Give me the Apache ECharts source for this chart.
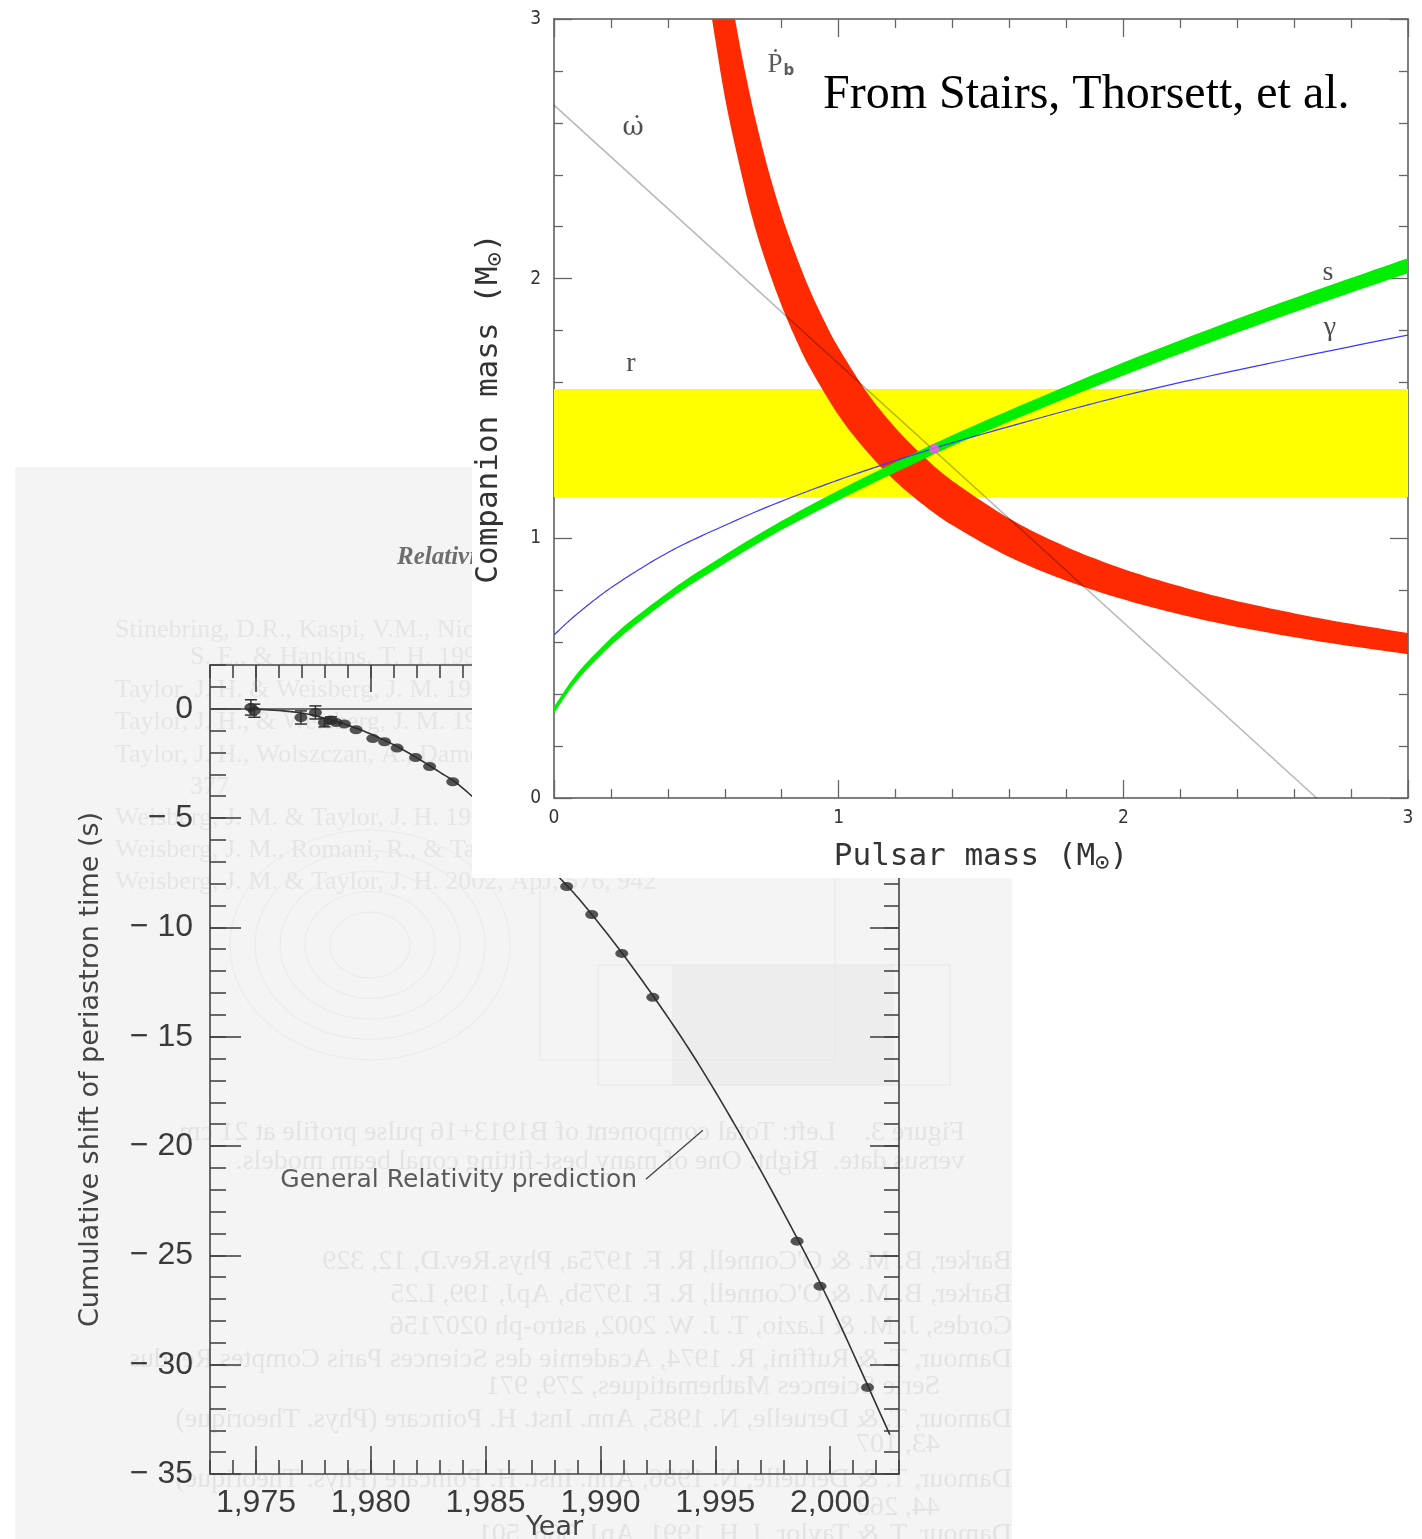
<!DOCTYPE html>
<html><head><meta charset="utf-8">
<script src="https://cdn.jsdelivr.net/npm/echarts@6/dist/echarts.min.js"></script>
<style>
html,body{margin:0;padding:0;background:#fff;width:1422px;height:1539px;overflow:hidden;position:relative}
#back{position:absolute;left:15px;top:467px;width:997px;height:1072px;background:#f4f4f4}
#front{position:absolute;left:472px;top:0;width:950px;height:878px;background:#fff}
</style></head><body>
<div id="back"></div><div id="front"></div>
<script>
// ===== Back chart: cumulative periastron shift =====
const years  = [1974.78,1974.93,1976.96,1977.59,1977.98,1978.27,1978.49,1978.85,1979.36,1980.09,1980.60,1981.15,1981.95,1982.56,1983.57,1988.53,1989.62,1990.93,1992.28,1998.56,1999.56,2001.63];
const shifts = [0.06,-0.09,-0.40,-0.17,-0.63,-0.52,-0.63,-0.70,-0.96,-1.36,-1.51,-1.80,-2.23,-2.64,-3.34,-8.13,-9.41,-11.19,-13.20,-24.35,-26.41,-31.04];
const shiftErr = [0.35,0.3,0.3,0.3,0.2,0.15,0,0,0,0,0,0,0,0,0,0,0,0,0,0,0,0];
const grYears = [1974.8,1977,1979,1981,1983,1984.3,1988,1990,1992,1994,1996,1998,2000,2002.6];
const grShift = [0,-0.2,-0.75,-1.65,-2.9,-3.9,-7.5,-9.9,-12.7,-15.8,-19.3,-23.1,-27.2,-33.2];
const grLabel = 'General Relativity prediction';
const grLabelAt = [1976.06,-21.57];
const grLeader = [[1991.98,-21.52],[1994.46,-19.28]];
const yearTicks = [1975,1980,1985,1990,1995,2000];
const shiftTicks = [0,-5,-10,-15,-20,-25,-30,-35];
const yearMinor = []; for (let y = 1973; y <= 2003; y++) yearMinor.push(y);
const shiftMinor = []; for (let v = 2; v >= -35; v--) shiftMinor.push(v);

// ===== Front chart: mass-mass diagram =====
const pbUpper = [[0.636,3.0],[0.66,2.858],[0.7,2.65],[0.75,2.43],[0.8,2.245],[0.85,2.09],[0.9,1.953],[0.95,1.836],[1.0,1.733],[1.1,1.561],[1.2,1.425],[1.3,1.314],[1.4,1.221],[1.6,1.076],[1.8,0.967],[2.0,0.882],[2.2,0.815],[2.4,0.758],[2.7,0.69],[3.0,0.635]];
const pbLower = [[0.555,3.0],[0.6,2.70],[0.65,2.443],[0.7,2.22],[0.75,2.045],[0.8,1.895],[0.85,1.766],[0.9,1.655],[1.0,1.473],[1.1,1.333],[1.2,1.219],[1.3,1.127],[1.4,1.05],[1.6,0.928],[1.8,0.837],[2.0,0.765],[2.2,0.707],[2.4,0.659],[2.7,0.601],[3.0,0.554]];
const sM1    = [0,0.05,0.1,0.175,0.25,0.375,0.5,0.75,1.0,1.25,1.5,2.0,2.5,3.0];
const sUpper = [0.351,0.434,0.504,0.589,0.665,0.771,0.867,1.036,1.185,1.320,1.446,1.677,1.886,2.079];
const sLower = [0.325,0.408,0.476,0.561,0.635,0.741,0.835,1.002,1.147,1.280,1.404,1.627,1.832,2.021];
const gammaM1 = [0,0.03,0.05,0.1,0.175,0.25,0.375,0.5,0.75,1.0,1.25,1.5,2.0,2.5,3.0];
const gammaM2 = [0.628,0.659,0.679,0.726,0.79,0.846,0.93,1.0,1.121,1.225,1.317,1.40,1.549,1.671,1.783];
const omdot = [[0,2.668],[2.679,0]];
const rBand = [1.159,1.575];
const massRange = [0,3];
const solution = [1.335,1.345];
const curveNames = ['{p|\u1E56}{b|b}','{w|\u03C9\u0307}','r','s','\u03B3'];
const curveNameM1 = [0.797,0.2775,0.2705,2.719,2.726];
const curveNameM2 = [2.823,2.58,1.671,2.022,1.810];
const massTicks = [0,1,2,3];

// Catmull-Rom resampling of pixel points (render-time smoothing only)
function crSample(px, seg) {
  const out = [];
  const n = px.length;
  for (let i = 0; i < n - 1; i++) {
    const p0 = px[Math.max(i - 1, 0)], p1 = px[i], p2 = px[i + 1], p3 = px[Math.min(i + 2, n - 1)];
    for (let k = 0; k < seg; k++) {
      const t = k / seg, t2 = t * t, t3 = t2 * t;
      const f = j => 0.5 * (2 * p1[j] + (-p0[j] + p2[j]) * t + (2 * p0[j] - 5 * p1[j] + 4 * p2[j] - p3[j]) * t2 + (-p0[j] + 3 * p1[j] - 3 * p2[j] + p3[j]) * t3);
      out.push([f(0), f(1)]);
    }
  }
  out.push(px[n - 1]);
  return out;
}
function curveSeries(pts, style, z) {
  return {type:'custom', coordinateSystem:'cartesian2d', data:[[pts[0][0], pts[0][1]]], encode:{x:0, y:1}, z:z, silent:true, clip:true,
    renderItem:(params, api) => ({type:'polyline', shape:{points:crSample(pts.map(p => api.coord(p)), 12)}, style:Object.assign({fill:null}, style)})};
}
function band(upper, lower, color, z) {
  return {type:'custom', coordinateSystem:'cartesian2d', data:[[upper[0][0], upper[0][1]]], encode:{x:0, y:1}, z:z, silent:true, clip:true,
    renderItem:(params, api) => {
      const up = crSample(upper.map(p => api.coord(p)), 10);
      const lo = crSample(lower.map(p => api.coord(p)), 10).reverse();
      return {type:'polygon', shape:{points:up.concat(lo)}, style:{fill:color}};
    }};
}

// ---------- back chart ----------
const AX = '#444';
const LF = '"Liberation Sans", Arial, sans-serif';
const DF = '"DejaVu Sans", sans-serif';
const back = echarts.init(document.getElementById('back'));
function bx(pos, vals, len, labels, line) {
  return {type:'value', min:1973, max:2003, position:pos, splitLine:{show:false},
    axisLine:{show:line, onZero:false, lineStyle:{color:AX, width:1.6}},
    axisTick:{show:true, inside:true, length:len, customValues:vals, lineStyle:{color:AX, width:1.6}},
    axisLabel:labels ? {show:true, customValues:vals, margin:13, fontSize:32, color:'#3a3a3a', fontFamily:LF} : {show:false}};
}
function by(pos, vals, len, labels, line) {
  return {type:'value', min:-35, max:2, position:pos, splitLine:{show:false},
    axisLine:{show:line, onZero:false, lineStyle:{color:AX, width:1.6}},
    axisTick:{show:true, inside:true, length:len, customValues:vals, lineStyle:{color:AX, width:1.6}},
    axisLabel:labels ? {show:true, customValues:vals, margin:17, fontSize:32, color:'#3a3a3a', fontFamily:LF,
      formatter:v => v === 0 ? '0' : '\u2212 ' + Math.abs(v)} : {show:false}};
}
const xa0 = bx('bottom', yearTicks, 28, true, true);
Object.assign(xa0, {name:'Year', nameLocation:'middle', nameGap:40, nameMoveOverlap:false,
  nameTextStyle:{fontSize:27, color:'#444', fontFamily:DF}});
const ya0 = by('left', shiftTicks, 31, true, true);
Object.assign(ya0, {name:'Cumulative shift of periastron time (s)', nameLocation:'middle', nameGap:106, nameMoveOverlap:false,
  nameTextStyle:{fontSize:27, color:'#444', fontFamily:DF}});

// faint page texture (scanned page, incl. mirrored bleed-through)
const deco = [];
const normalLines = [
  [115,630,'Stinebring, D.R., Kaspi, V.M., Nice, D.J., Ryba, M.F., Taylor, J.H., Thorsett,'],
  [190,657,'S. E., & Hankins, T. H. 1992, Rev. Sci. Instrum., 63, 3551'],
  [115,690,'Taylor, J. H. & Weisberg, J. M. 1982, ApJ, 253, 908'],
  [115,722,'Taylor, J. H., & Weisberg, J. M. 1989, ApJ, 345, 434'],
  [115,755,'Taylor, J. H., Wolszczan, A., Damour, T., & Weisberg, J. M. 1992, Nature,'],
  [190,787,'377'],
  [115,818,'Weisberg, J. M. & Taylor, J. H. 1984, Phys. Rev. Lett., 52, 1348'],
  [115,850,'Weisberg, J. M., Romani, R., & Taylor, J. H. 1989, ApJ, 347, 1030'],
  [115,882,'Weisberg, J. M. & Taylor, J. H. 2002, ApJ, 576, 942']
];
normalLines.forEach(l => deco.push({type:'text', x:l[0]-15, y:l[1]-467, z:-5,
  style:{text:l[2], font:'26px "Liberation Serif", serif', fill:'#e5e5e5', align:'left', verticalAlign:'middle'}}));
const mirrorLines = [
  [965,1133,'Figure 3.    Left: Total component of B1913+16 pulse profile at 21 cm'],
  [965,1162,'versus date.  Right: One of many best-fitting conal beam models.'],
  [1012,1262,"Barker, B. M. & O'Connell, R. F. 1975a, Phys.Rev.D, 12, 329"],
  [1012,1295,"Barker, B. M. & O'Connell, R. F. 1975b, ApJ, 199, L25"],
  [1012,1327,'Cordes, J. M. & Lazio, T. J. W. 2002, astro-ph 0207156'],
  [1012,1360,'Damour, T. & Ruffini, R. 1974, Academie des Sciences Paris Comptes Rendus'],
  [940,1387,'Serie Sciences Mathematiques, 279, 971'],
  [1012,1420,'Damour, T. & Deruelle, N. 1985, Ann. Inst. H. Poincare (Phys. Theorique)'],
  [940,1445,'43, 107'],
  [1012,1480,'Damour, T. & Deruelle, N. 1986, Ann. Inst. H. Poincare (Phys. Theorique)'],
  [940,1508,'44, 263'],
  [1012,1535,'Damour, T. & Taylor, J. H. 1991, ApJ, 366, 501']
];
mirrorLines.forEach(l => deco.push({type:'text', x:l[0]-15, y:l[1]-467, scaleX:-1, z:-5,
  style:{text:l[2], font:'28px "Liberation Serif", serif', fill:'#e3e3e3', align:'left', verticalAlign:'middle'}}));
[40,65,90,115,140].forEach(r => deco.push({type:'ellipse', z:-6, shape:{cx:370-15, cy:945-467, rx:r, ry:r*0.82},
  style:{fill:'none', stroke:'#ebebeb', lineWidth:1.2}}));
deco.push({type:'rect', z:-6, shape:{x:540-15, y:865-467, width:295, height:195}, style:{fill:'none', stroke:'#e8e8e8', lineWidth:1.2}});
deco.push({type:'rect', z:-7, shape:{x:672-15, y:965-467, width:222, height:120}, style:{fill:'#ededed'}});
deco.push({type:'rect', z:-6, shape:{x:598-15, y:965-467, width:352, height:120}, style:{fill:'none', stroke:'#e6e6e6', lineWidth:1.2}});
deco.push({type:'text', x:397-15, y:558-467, z:-4,
  style:{text:'Relativistic Binary Pulsars', font:'italic 600 25px "Liberation Serif", serif', fill:'#6e6e6e', align:'left', verticalAlign:'middle'}});

back.setOption({
  animation:false,
  textStyle:{fontFamily:LF},
  grid:{left:195, top:198, width:689, height:809, containLabel:false, outerBoundsMode:'none'},
  xAxis:[xa0, bx('bottom', yearMinor, 14, false, false), bx('top', yearTicks, 27, false, true), bx('top', yearMinor, 13, false, false)],
  yAxis:[ya0, by('left', shiftMinor, 16, false, false), by('right', shiftTicks, 29, false, true), by('right', shiftMinor, 15, false, false)],
  graphic:{elements:deco},
  series:[
    Object.assign(curveSeries(grYears.map((x,i)=>[x,grShift[i]]), {stroke:'#333', lineWidth:1.6}, 3), {
     markLine:{silent:true, symbol:['none','none'], label:{show:false}, animation:false,
       lineStyle:{color:AX, width:1.6, type:'solid'}, data:[{yAxis:0}]}}),
    {type:'custom', name:'err', data:years.map((x,i)=>[x,shifts[i],shiftErr[i]]), z:4, silent:true,
     encode:{x:0, y:1},
     renderItem:(params, api) => {
       const x = api.value(0), y = api.value(1), e = api.value(2);
       if (!e) return null;
       const t = api.coord([x, y + e]), b = api.coord([x, y - e]);
       const st = {stroke:'#333', lineWidth:1.5};
       return {type:'group', children:[
         {type:'line', shape:{x1:t[0], y1:t[1], x2:b[0], y2:b[1]}, style:st},
         {type:'line', shape:{x1:t[0]-6, y1:t[1], x2:t[0]+6, y2:t[1]}, style:st},
         {type:'line', shape:{x1:b[0]-6, y1:b[1], x2:b[0]+6, y2:b[1]}, style:st}]};
     }},
    {type:'scatter', name:'obs', data:years.map((x,i)=>[x,shifts[i]]), symbol:'circle', symbolSize:[13,9],
     itemStyle:{color:'#2a2a2a'}, z:5, silent:true},
    {type:'line', name:'leader', data:grLeader, symbol:'none', lineStyle:{color:'#444', width:1.3}, z:3, silent:true},
    {type:'scatter', name:'grlabel', data:[grLabelAt], symbolSize:0, silent:true,
     label:{show:true, position:'right', distance:0, formatter:grLabel, fontSize:25, color:'#333', fontFamily:DF}}
  ]
});

// ---------- front chart ----------
const front = echarts.init(document.getElementById('front'));
const FA = '#555', FT = '#666';
const tickFont = '"DejaVu Sans Condensed", "DejaVu Sans", sans-serif';
const nameFont = '"DejaVu Sans Mono", monospace';
const serif = '"Liberation Serif", "DejaVu Serif", serif';
function fx(pos, labels) {
  return {type:'value', min:massRange[0], max:massRange[1], interval:1, position:pos, splitLine:{show:false}, minorSplitLine:{show:false},
    axisLine:{show:true, onZero:false, lineStyle:{color:FA, width:1.5}},
    axisTick:{show:true, inside:true, length:18, lineStyle:{color:FT, width:1.3}},
    minorTick:{show:true, splitNumber:5, length:9, lineStyle:{color:FT, width:1.3}},
    axisLabel:labels ? {show:true, margin:11, fontSize:19, color:'#333', fontFamily:tickFont,
      customValues:massTicks} : {show:false}};
}
const nameRich = {s:{fontSize:24, fontFamily:nameFont, color:'#333', verticalAlign:'bottom', padding:[14,0,0,0]},
                  n:{fontSize:31, fontFamily:nameFont, color:'#333'}};
const fx0 = fx('bottom', true);
Object.assign(fx0, {name:'{n|Pulsar mass (M}{s|\u2299}{n|)}', nameLocation:'middle', nameGap:40, nameMoveOverlap:false,
  nameTextStyle:{rich:nameRich}});
const fy0 = fx('left', true);
fy0.axisLabel.margin = 13;
Object.assign(fy0, {name:'{n|Companion mass (M}{s|\u2299}{n|)}', nameLocation:'middle', nameGap:46, nameMoveOverlap:false,
  nameTextStyle:{rich:nameRich}});

const rUpper = [[massRange[0], rBand[1]],[massRange[1], rBand[1]]];
const rLower = [[massRange[0], rBand[0]],[massRange[1], rBand[0]]];

front.setOption({
  animation:false,
  grid:{left:82, top:19, width:854, height:779, containLabel:false, outerBoundsMode:'none'},
  xAxis:[fx0, fx('top', false)],
  yAxis:[fy0, fx('right', false)],
  graphic:{elements:[{type:'text', x:823-472, y:95, z:100,
    style:{text:'From Stairs, Thorsett, et al.', font:'48px "Liberation Serif", "Times New Roman", serif', fill:'#000', align:'left', verticalAlign:'middle'}}]},
  series:[
    band(rUpper, rLower, '#ffff00', 1),
    band(pbUpper, pbLower, '#ff2a00', 2),
    band(sM1.map((x,i)=>[x,sUpper[i]]), sM1.map((x,i)=>[x,sLower[i]]), '#00ee00', 3),
    curveSeries(gammaM1.map((x,i)=>[x,gammaM2[i]]), {stroke:'#3a3aff', lineWidth:1.2}, 4),
    {type:'line', name:'omdot', data:omdot, symbol:'none', lineStyle:{color:'rgba(0,0,0,0.28)', width:1.6}, z:5, silent:true},
    {type:'scatter', name:'sol', data:[solution], symbol:'circle', symbolSize:10, itemStyle:{color:'#ff55ff'}, z:6, silent:true},
    {type:'scatter', name:'names', data:curveNameM1.map((x,i)=>[x,curveNameM2[i],curveNames[i]]), symbolSize:0, z:7, silent:true,
     label:{show:true, position:'inside', formatter:p => p.value[2], fontSize:28, color:'#222', fontFamily:serif,
       rich:{p:{fontSize:27, color:'#333', fontFamily:serif},
             b:{fontSize:15, color:'#333', fontFamily:'"DejaVu Sans", sans-serif', fontWeight:'bold', verticalAlign:'bottom', padding:[10,0,0,1]},
             w:{fontSize:26, color:'#222', fontFamily:'"DejaVu Serif", serif'}}}}
  ]
});
</script>
</body></html>
